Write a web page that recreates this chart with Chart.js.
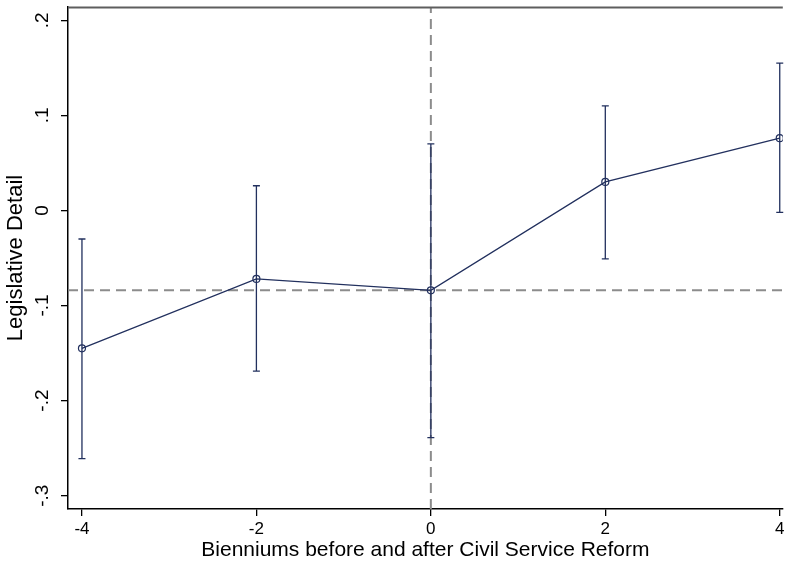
<!DOCTYPE html>
<html>
<head>
<meta charset="utf-8">
<script src="https://cdn.jsdelivr.net/npm/chart.js@4.4.1/dist/chart.umd.min.js"></script>
<style>
  html, body { margin: 0; padding: 0; background: #fff; overflow: hidden; }
  #wrap { width: 788px; height: 563px; }
  #c { display: block; }
</style>
</head>
<body>
<div id="wrap"><canvas id="c" width="788" height="563"></canvas></div>
<script>
// ---- data ----
const xVals   = [-4, -2, 0, 2, 4];
const coef    = [-0.145, -0.072, -0.084, 0.030, 0.076];
const ciLow   = [-0.261, -0.169, -0.239, -0.051, -0.002];
const ciHigh  = [-0.030, 0.026, 0.070, 0.110, 0.155];
const xTicks  = [-4, -2, 0, 2, 4];
const xTickLabels = ['-4', '-2', '0', '2', '4'];
const yTicks  = [-0.3, -0.2, -0.1, 0, 0.1, 0.2];
const yTickLabels = ['-.3', '-.2', '-.1', '0', '.1', '.2'];
const refLineX = 0;        // reform period
const refLineY = -0.084;   // estimate at period 0
const xLimits = [-4.16, 4.035];
const yLimits = [-0.314, 0.214];
const xTitle = 'Bienniums before and after Civil Service Reform';
const yTitle = 'Legislative Detail';

const NAVY = '#22305e';
const DASH = '#8c8c8c';
const FONT = "'Liberation Sans', Arial, Helvetica, sans-serif";

const errorBars = {
  id: 'errorBars',
  beforeDatasetDraw(chart, args) {
    if (args.index !== 0) return;
    const ctx = chart.ctx, xs = chart.scales.x, ys = chart.scales.y;
    ctx.save();
    ctx.strokeStyle = NAVY;
    ctx.lineWidth = 1.3;
    for (let i = 0; i < xVals.length; i++) {
      const px = xs.getPixelForValue(xVals[i]);
      const lo = ys.getPixelForValue(ciLow[i]);
      const hi = ys.getPixelForValue(ciHigh[i]);
      ctx.beginPath();
      ctx.moveTo(px, lo); ctx.lineTo(px, hi);
      ctx.moveTo(px - 3.5, lo); ctx.lineTo(px + 3.5, lo);
      ctx.moveTo(px - 3.5, hi); ctx.lineTo(px + 3.5, hi);
      ctx.stroke();
    }
    ctx.restore();
  }
};

const topBorder = {
  id: 'plotTopLine',
  afterDraw(chart) {
    const ctx = chart.ctx, a = chart.chartArea;
    ctx.save();
    ctx.setLineDash([]);
    ctx.strokeStyle = '#5e5e5e';
    ctx.lineWidth = 2;
    ctx.beginPath();
    ctx.moveTo(a.left, a.top + 0.5);
    ctx.lineTo(a.right, a.top + 0.5);
    ctx.stroke();
    ctx.restore();
  }
};

new Chart(document.getElementById('c'), {
  type: 'scatter',
  data: {
    datasets: [
      {
        label: 'estimate',
        data: xVals.map((x, i) => ({ x: x, y: coef[i] })),
        showLine: true,
        borderColor: NAVY,
        borderWidth: 1.3,
        pointRadius: 3.5,
        pointBorderWidth: 1.2,
        pointBorderColor: NAVY,
        pointBackgroundColor: 'rgba(0,0,0,0)',
        order: 0
      },
      {
        label: 'hline',
        data: xLimits.map(x => ({ x: x, y: refLineY })),
        showLine: true,
        borderColor: DASH,
        borderWidth: 2,
        borderDash: [10, 6],
        pointRadius: 0,
        order: 2
      },
      {
        label: 'vline',
        data: yLimits.map(y => ({ x: refLineX, y: y })),
        showLine: true,
        borderColor: DASH,
        borderWidth: 2,
        borderDash: [10, 6],
        pointRadius: 0,
        order: 3
      }
    ]
  },
  options: {
    responsive: false,
    animation: false,
    devicePixelRatio: 1,
    layout: { padding: { top: 7, right: -5, left: 0, bottom: 0 } },
    plugins: { legend: { display: false }, tooltip: { enabled: false } },
    scales: {
      x: {
        type: 'linear',
        min: xLimits[0], max: xLimits[1],
        afterBuildTicks: s => { s.ticks = xTicks.map(v => ({ value: v })); },
        afterFit: s => { s.height = 54; s.paddingLeft = 0; s.paddingRight = 0; },
        ticks: {
          callback: (v) => xTickLabels[xTicks.indexOf(v)],
          color: '#000',
          font: { family: FONT, size: 17 },
          padding: 3,
          maxRotation: 0, minRotation: 0
        },
        grid: { drawOnChartArea: false, drawTicks: true, tickLength: 7, color: '#000', lineWidth: 1.3 },
        border: { display: true, color: '#000', width: 1.5 },
        title: {
          display: true, text: xTitle, color: '#000',
          font: { family: FONT, size: 21 },
          padding: { top: 0, bottom: 0 }
        }
      },
      y: {
        type: 'linear',
        min: yLimits[0], max: yLimits[1],
        afterBuildTicks: s => { s.ticks = yTicks.map(v => ({ value: v })); },
        afterFit: s => { s.width = 68; s.paddingTop = 0; s.paddingBottom = 0; },
        ticks: {
          callback: (v) => {
            const i = yTicks.findIndex(t => Math.abs(t - v) < 1e-9);
            return i >= 0 ? yTickLabels[i] : '';
          },
          color: '#000',
          font: { family: FONT, size: 19 },
          padding: 7,
          minRotation: 90, maxRotation: 90,
          crossAlign: 'center'
        },
        grid: { drawOnChartArea: false, drawTicks: true, tickLength: 7, color: '#000', lineWidth: 1.3 },
        border: { display: true, color: '#000', width: 1.5 },
        title: {
          display: true, text: yTitle, color: '#000',
          font: { family: FONT, size: 22 },
          padding: { top: 3, bottom: 0 }
        }
      }
    }
  },
  plugins: [errorBars, topBorder]
});
</script>
</body>
</html>
